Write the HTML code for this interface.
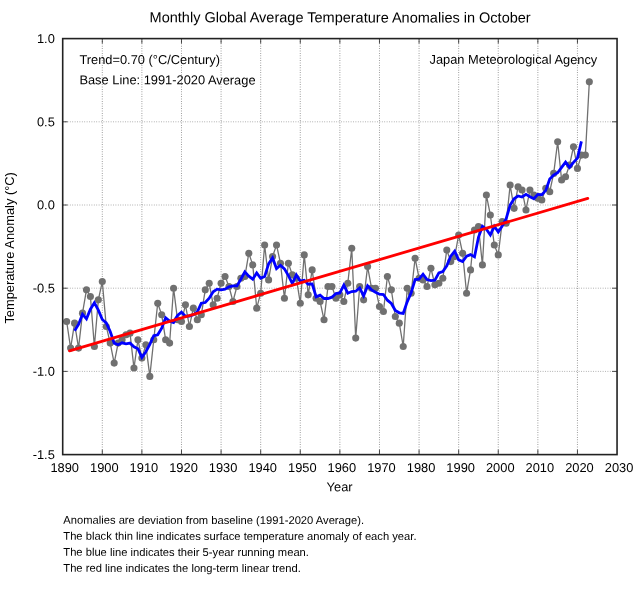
<!DOCTYPE html>
<html><head><meta charset="utf-8"><title>Monthly Global Average Temperature Anomalies in October</title>
<style>
html,body{margin:0;padding:0;background:#fff;}
body{width:640px;height:599px;position:relative;overflow:hidden;font-family:"Liberation Sans",Arial,Helvetica,sans-serif;color:#000;}
.t{position:absolute;left:0;top:0;white-space:nowrap;line-height:20px;}
</style></head><body>
<svg width="640" height="599" viewBox="0 0 640 599" style="position:absolute;left:0;top:0">
<path d="M102.30 38.6V454.6M141.89 38.6V454.6M181.49 38.6V454.6M221.09 38.6V454.6M260.68 38.6V454.6M300.28 38.6V454.6M339.87 38.6V454.6M379.47 38.6V454.6M419.07 38.6V454.6M458.66 38.6V454.6M498.26 38.6V454.6M537.86 38.6V454.6M577.45 38.6V454.6" stroke="#555" stroke-width="0.7" stroke-dasharray="0.8 1.6" fill="none"/>
<path d="M62.7 121.80H617.05M62.7 205.00H617.05M62.7 288.20H617.05M62.7 371.40H617.05" stroke="#777" stroke-width="0.7" stroke-dasharray="0.8 1.6" fill="none"/>
<path d="M102.30 454.6v-4.9M102.30 38.6v4.9M141.89 454.6v-4.9M141.89 38.6v4.9M181.49 454.6v-4.9M181.49 38.6v4.9M221.09 454.6v-4.9M221.09 38.6v4.9M260.68 454.6v-4.9M260.68 38.6v4.9M300.28 454.6v-4.9M300.28 38.6v4.9M339.87 454.6v-4.9M339.87 38.6v4.9M379.47 454.6v-4.9M379.47 38.6v4.9M419.07 454.6v-4.9M419.07 38.6v4.9M458.66 454.6v-4.9M458.66 38.6v4.9M498.26 454.6v-4.9M498.26 38.6v4.9M537.86 454.6v-4.9M537.86 38.6v4.9M577.45 454.6v-4.9M577.45 38.6v4.9M62.7 121.80h4.9M617.05 121.80h-4.9M62.7 205.00h4.9M617.05 205.00h-4.9M62.7 288.20h4.9M617.05 288.20h-4.9M62.7 371.40h4.9M617.05 371.40h-4.9" stroke="#222" stroke-width="0.8" fill="none"/>
<path d="M66.66 321.48L70.62 348.10L74.58 323.14L78.54 348.10L82.50 313.16L86.46 289.86L90.42 296.52L94.38 346.44L98.34 299.85L102.30 281.54L106.26 326.47L110.22 343.11L114.18 363.08L118.13 343.11L122.09 339.78L126.05 334.79L130.01 333.13L133.97 368.07L137.93 339.78L141.89 358.09L145.85 344.78L149.81 376.39L153.77 339.78L157.73 303.18L161.69 314.82L165.65 339.78L169.61 343.11L173.57 288.20L177.53 319.82L181.49 321.48L185.45 304.84L189.41 326.47L193.37 308.17L197.33 319.82L201.29 314.82L205.25 289.86L209.21 283.21L213.17 304.84L217.13 298.18L221.09 283.21L225.05 276.55L229.00 286.54L232.96 301.51L236.92 286.54L240.88 278.22L244.84 276.55L248.80 253.26L252.76 264.90L256.72 308.17L260.68 293.19L264.64 244.94L268.60 279.88L272.56 256.58L276.52 244.94L280.48 263.24L284.44 298.18L288.40 263.24L292.36 274.89L296.32 278.22L300.28 303.18L304.24 254.92L308.20 294.86L312.16 269.90L316.12 298.18L320.08 301.51L324.04 319.82L328.00 286.54L331.96 286.54L335.92 298.18L339.87 294.86L343.83 301.51L347.79 283.21L351.75 248.26L355.71 338.12L359.67 286.54L363.63 299.85L367.59 266.57L371.55 288.20L375.51 288.20L379.47 306.50L383.43 311.50L387.39 276.55L391.35 289.86L395.31 316.49L399.27 323.14L403.23 346.44L407.19 288.20L411.15 293.19L415.11 258.25L419.07 278.22L423.03 279.88L426.99 286.54L430.95 268.23L434.91 284.87L438.87 283.21L442.83 278.22L446.79 249.93L450.74 261.58L454.70 256.58L458.66 234.95L462.62 253.26L466.58 293.19L470.54 269.90L474.50 229.96L478.46 226.63L482.42 264.90L486.38 195.02L490.34 214.98L494.30 244.94L498.26 254.92L502.22 221.64L506.18 223.30L510.14 185.03L514.10 208.33L518.06 186.70L522.02 190.02L525.98 209.99L529.94 190.02L533.90 195.02L537.86 198.34L541.82 200.01L545.78 188.36L549.74 191.69L553.70 173.38L557.66 141.77L561.62 180.04L565.57 176.71L569.53 165.06L573.49 146.76L577.45 168.39L581.41 155.08L585.37 155.08L589.33 81.86" stroke="#707070" stroke-width="1.3" fill="none" stroke-linejoin="round"/>
<circle cx="66.66" cy="321.48" r="3.55" fill="#707070"/>
<circle cx="70.62" cy="348.10" r="3.55" fill="#707070"/>
<circle cx="74.58" cy="323.14" r="3.55" fill="#707070"/>
<circle cx="78.54" cy="348.10" r="3.55" fill="#707070"/>
<circle cx="82.50" cy="313.16" r="3.55" fill="#707070"/>
<circle cx="86.46" cy="289.86" r="3.55" fill="#707070"/>
<circle cx="90.42" cy="296.52" r="3.55" fill="#707070"/>
<circle cx="94.38" cy="346.44" r="3.55" fill="#707070"/>
<circle cx="98.34" cy="299.85" r="3.55" fill="#707070"/>
<circle cx="102.30" cy="281.54" r="3.55" fill="#707070"/>
<circle cx="106.26" cy="326.47" r="3.55" fill="#707070"/>
<circle cx="110.22" cy="343.11" r="3.55" fill="#707070"/>
<circle cx="114.18" cy="363.08" r="3.55" fill="#707070"/>
<circle cx="118.13" cy="343.11" r="3.55" fill="#707070"/>
<circle cx="122.09" cy="339.78" r="3.55" fill="#707070"/>
<circle cx="126.05" cy="334.79" r="3.55" fill="#707070"/>
<circle cx="130.01" cy="333.13" r="3.55" fill="#707070"/>
<circle cx="133.97" cy="368.07" r="3.55" fill="#707070"/>
<circle cx="137.93" cy="339.78" r="3.55" fill="#707070"/>
<circle cx="141.89" cy="358.09" r="3.55" fill="#707070"/>
<circle cx="145.85" cy="344.78" r="3.55" fill="#707070"/>
<circle cx="149.81" cy="376.39" r="3.55" fill="#707070"/>
<circle cx="153.77" cy="339.78" r="3.55" fill="#707070"/>
<circle cx="157.73" cy="303.18" r="3.55" fill="#707070"/>
<circle cx="161.69" cy="314.82" r="3.55" fill="#707070"/>
<circle cx="165.65" cy="339.78" r="3.55" fill="#707070"/>
<circle cx="169.61" cy="343.11" r="3.55" fill="#707070"/>
<circle cx="173.57" cy="288.20" r="3.55" fill="#707070"/>
<circle cx="177.53" cy="319.82" r="3.55" fill="#707070"/>
<circle cx="181.49" cy="321.48" r="3.55" fill="#707070"/>
<circle cx="185.45" cy="304.84" r="3.55" fill="#707070"/>
<circle cx="189.41" cy="326.47" r="3.55" fill="#707070"/>
<circle cx="193.37" cy="308.17" r="3.55" fill="#707070"/>
<circle cx="197.33" cy="319.82" r="3.55" fill="#707070"/>
<circle cx="201.29" cy="314.82" r="3.55" fill="#707070"/>
<circle cx="205.25" cy="289.86" r="3.55" fill="#707070"/>
<circle cx="209.21" cy="283.21" r="3.55" fill="#707070"/>
<circle cx="213.17" cy="304.84" r="3.55" fill="#707070"/>
<circle cx="217.13" cy="298.18" r="3.55" fill="#707070"/>
<circle cx="221.09" cy="283.21" r="3.55" fill="#707070"/>
<circle cx="225.05" cy="276.55" r="3.55" fill="#707070"/>
<circle cx="229.00" cy="286.54" r="3.55" fill="#707070"/>
<circle cx="232.96" cy="301.51" r="3.55" fill="#707070"/>
<circle cx="236.92" cy="286.54" r="3.55" fill="#707070"/>
<circle cx="240.88" cy="278.22" r="3.55" fill="#707070"/>
<circle cx="244.84" cy="276.55" r="3.55" fill="#707070"/>
<circle cx="248.80" cy="253.26" r="3.55" fill="#707070"/>
<circle cx="252.76" cy="264.90" r="3.55" fill="#707070"/>
<circle cx="256.72" cy="308.17" r="3.55" fill="#707070"/>
<circle cx="260.68" cy="293.19" r="3.55" fill="#707070"/>
<circle cx="264.64" cy="244.94" r="3.55" fill="#707070"/>
<circle cx="268.60" cy="279.88" r="3.55" fill="#707070"/>
<circle cx="272.56" cy="256.58" r="3.55" fill="#707070"/>
<circle cx="276.52" cy="244.94" r="3.55" fill="#707070"/>
<circle cx="280.48" cy="263.24" r="3.55" fill="#707070"/>
<circle cx="284.44" cy="298.18" r="3.55" fill="#707070"/>
<circle cx="288.40" cy="263.24" r="3.55" fill="#707070"/>
<circle cx="292.36" cy="274.89" r="3.55" fill="#707070"/>
<circle cx="296.32" cy="278.22" r="3.55" fill="#707070"/>
<circle cx="300.28" cy="303.18" r="3.55" fill="#707070"/>
<circle cx="304.24" cy="254.92" r="3.55" fill="#707070"/>
<circle cx="308.20" cy="294.86" r="3.55" fill="#707070"/>
<circle cx="312.16" cy="269.90" r="3.55" fill="#707070"/>
<circle cx="316.12" cy="298.18" r="3.55" fill="#707070"/>
<circle cx="320.08" cy="301.51" r="3.55" fill="#707070"/>
<circle cx="324.04" cy="319.82" r="3.55" fill="#707070"/>
<circle cx="328.00" cy="286.54" r="3.55" fill="#707070"/>
<circle cx="331.96" cy="286.54" r="3.55" fill="#707070"/>
<circle cx="335.92" cy="298.18" r="3.55" fill="#707070"/>
<circle cx="339.87" cy="294.86" r="3.55" fill="#707070"/>
<circle cx="343.83" cy="301.51" r="3.55" fill="#707070"/>
<circle cx="347.79" cy="283.21" r="3.55" fill="#707070"/>
<circle cx="351.75" cy="248.26" r="3.55" fill="#707070"/>
<circle cx="355.71" cy="338.12" r="3.55" fill="#707070"/>
<circle cx="359.67" cy="286.54" r="3.55" fill="#707070"/>
<circle cx="363.63" cy="299.85" r="3.55" fill="#707070"/>
<circle cx="367.59" cy="266.57" r="3.55" fill="#707070"/>
<circle cx="371.55" cy="288.20" r="3.55" fill="#707070"/>
<circle cx="375.51" cy="288.20" r="3.55" fill="#707070"/>
<circle cx="379.47" cy="306.50" r="3.55" fill="#707070"/>
<circle cx="383.43" cy="311.50" r="3.55" fill="#707070"/>
<circle cx="387.39" cy="276.55" r="3.55" fill="#707070"/>
<circle cx="391.35" cy="289.86" r="3.55" fill="#707070"/>
<circle cx="395.31" cy="316.49" r="3.55" fill="#707070"/>
<circle cx="399.27" cy="323.14" r="3.55" fill="#707070"/>
<circle cx="403.23" cy="346.44" r="3.55" fill="#707070"/>
<circle cx="407.19" cy="288.20" r="3.55" fill="#707070"/>
<circle cx="411.15" cy="293.19" r="3.55" fill="#707070"/>
<circle cx="415.11" cy="258.25" r="3.55" fill="#707070"/>
<circle cx="419.07" cy="278.22" r="3.55" fill="#707070"/>
<circle cx="423.03" cy="279.88" r="3.55" fill="#707070"/>
<circle cx="426.99" cy="286.54" r="3.55" fill="#707070"/>
<circle cx="430.95" cy="268.23" r="3.55" fill="#707070"/>
<circle cx="434.91" cy="284.87" r="3.55" fill="#707070"/>
<circle cx="438.87" cy="283.21" r="3.55" fill="#707070"/>
<circle cx="442.83" cy="278.22" r="3.55" fill="#707070"/>
<circle cx="446.79" cy="249.93" r="3.55" fill="#707070"/>
<circle cx="450.74" cy="261.58" r="3.55" fill="#707070"/>
<circle cx="454.70" cy="256.58" r="3.55" fill="#707070"/>
<circle cx="458.66" cy="234.95" r="3.55" fill="#707070"/>
<circle cx="462.62" cy="253.26" r="3.55" fill="#707070"/>
<circle cx="466.58" cy="293.19" r="3.55" fill="#707070"/>
<circle cx="470.54" cy="269.90" r="3.55" fill="#707070"/>
<circle cx="474.50" cy="229.96" r="3.55" fill="#707070"/>
<circle cx="478.46" cy="226.63" r="3.55" fill="#707070"/>
<circle cx="482.42" cy="264.90" r="3.55" fill="#707070"/>
<circle cx="486.38" cy="195.02" r="3.55" fill="#707070"/>
<circle cx="490.34" cy="214.98" r="3.55" fill="#707070"/>
<circle cx="494.30" cy="244.94" r="3.55" fill="#707070"/>
<circle cx="498.26" cy="254.92" r="3.55" fill="#707070"/>
<circle cx="502.22" cy="221.64" r="3.55" fill="#707070"/>
<circle cx="506.18" cy="223.30" r="3.55" fill="#707070"/>
<circle cx="510.14" cy="185.03" r="3.55" fill="#707070"/>
<circle cx="514.10" cy="208.33" r="3.55" fill="#707070"/>
<circle cx="518.06" cy="186.70" r="3.55" fill="#707070"/>
<circle cx="522.02" cy="190.02" r="3.55" fill="#707070"/>
<circle cx="525.98" cy="209.99" r="3.55" fill="#707070"/>
<circle cx="529.94" cy="190.02" r="3.55" fill="#707070"/>
<circle cx="533.90" cy="195.02" r="3.55" fill="#707070"/>
<circle cx="537.86" cy="198.34" r="3.55" fill="#707070"/>
<circle cx="541.82" cy="200.01" r="3.55" fill="#707070"/>
<circle cx="545.78" cy="188.36" r="3.55" fill="#707070"/>
<circle cx="549.74" cy="191.69" r="3.55" fill="#707070"/>
<circle cx="553.70" cy="173.38" r="3.55" fill="#707070"/>
<circle cx="557.66" cy="141.77" r="3.55" fill="#707070"/>
<circle cx="561.62" cy="180.04" r="3.55" fill="#707070"/>
<circle cx="565.57" cy="176.71" r="3.55" fill="#707070"/>
<circle cx="569.53" cy="165.06" r="3.55" fill="#707070"/>
<circle cx="573.49" cy="146.76" r="3.55" fill="#707070"/>
<circle cx="577.45" cy="168.39" r="3.55" fill="#707070"/>
<circle cx="581.41" cy="155.08" r="3.55" fill="#707070"/>
<circle cx="585.37" cy="155.08" r="3.55" fill="#707070"/>
<circle cx="589.33" cy="81.86" r="3.55" fill="#707070"/>
<path d="M74.58 330.80L78.54 324.48L82.50 314.16L86.46 318.82L90.42 309.17L94.38 302.84L98.34 310.16L102.30 319.48L106.26 322.81L110.22 331.46L114.18 343.11L118.13 344.78L122.09 342.78L126.05 343.78L130.01 343.11L133.97 346.77L137.93 348.77L141.89 357.42L145.85 351.76L149.81 344.44L153.77 335.79L157.73 334.79L161.69 328.14L165.65 317.82L169.61 321.15L173.57 322.48L177.53 315.49L181.49 312.16L185.45 316.16L189.41 316.16L193.37 314.82L197.33 311.83L201.29 303.18L205.25 302.51L209.21 298.18L213.17 291.86L217.13 289.20L221.09 289.86L225.05 289.20L229.00 286.87L232.96 285.87L236.92 285.87L240.88 279.21L244.84 271.89L248.80 276.22L252.76 279.21L256.72 272.89L260.68 278.22L264.64 276.55L268.60 263.91L272.56 257.92L276.52 268.56L280.48 265.24L284.44 268.90L288.40 275.55L292.36 283.54L296.32 274.89L300.28 281.21L304.24 280.21L308.20 284.21L312.16 283.87L316.12 296.85L320.08 295.19L324.04 298.52L328.00 298.52L331.96 297.19L335.92 293.52L339.87 292.86L343.83 285.20L347.79 293.19L351.75 291.53L355.71 291.20L359.67 287.87L363.63 295.85L367.59 285.87L371.55 289.86L375.51 292.19L379.47 294.19L383.43 294.52L387.39 300.18L391.35 303.51L395.31 310.50L399.27 312.83L403.23 313.49L407.19 301.84L411.15 292.86L415.11 279.55L419.07 279.21L423.03 274.22L426.99 279.55L430.95 280.55L434.91 280.21L438.87 272.89L442.83 271.56L446.79 265.90L450.74 256.25L454.70 251.26L458.66 259.91L462.62 261.58L466.58 256.25L470.54 254.59L474.50 256.92L478.46 237.28L482.42 226.30L486.38 229.29L490.34 234.95L494.30 226.30L498.26 231.96L502.22 225.97L506.18 218.64L510.14 205.00L514.10 198.68L518.06 196.01L522.02 197.01L525.98 194.35L529.94 196.68L533.90 198.68L537.86 194.35L541.82 194.68L545.78 190.36L549.74 179.04L553.70 175.05L557.66 172.72L561.62 167.39L565.57 162.07L569.53 167.39L573.49 162.40L577.45 158.08L581.41 141.44" stroke="#0000ff" stroke-width="2.8" fill="none" stroke-linejoin="miter"/>
<path d="M69.5 350.80L587.8 198.37" stroke="#ff0000" stroke-width="2.8" stroke-linecap="round" fill="none"/>
<rect x="62.7" y="38.6" width="554.3499999999999" height="416.0" fill="none" stroke="#222" stroke-width="1.6"/>
</svg>
<div class="t" id="title" style="font-size:14.53px;transform:translate(149.60px,7.37px) rotate(0.03deg);">Monthly Global Average Temperature Anomalies in October</div>
<div class="t" id="trend" style="font-size:12.85px;transform:translate(79.40px,49.95px) rotate(0.03deg);">Trend=0.70 (°C/Century)</div>
<div class="t" id="base" style="font-size:12.85px;transform:translate(79.40px,70.35px) rotate(0.03deg);">Base Line: 1991-2020 Average</div>
<div class="t" id="jma" style="font-size:12.85px;transform:translate(429.50px,49.85px) rotate(0.03deg);">Japan Meteorological Agency</div>
<div class="t" id="xlab" style="font-size:12.85px;transform:translate(326.60px,477.25px) rotate(0.03deg);">Year</div>
<div class="t" id="n1" style="font-size:11.2px;transform:translate(63.30px,509.92px) rotate(0.03deg);">Anomalies are deviation from baseline (1991-2020 Average).</div>
<div class="t" id="n2" style="font-size:11.2px;transform:translate(63.30px,525.92px) rotate(0.03deg);">The black thin line indicates surface temperature anomaly of each year.</div>
<div class="t" id="n3" style="font-size:11.2px;transform:translate(63.30px,541.92px) rotate(0.03deg);">The blue line indicates their 5-year running mean.</div>
<div class="t" id="n4" style="font-size:11.2px;transform:translate(63.30px,557.92px) rotate(0.03deg);">The red line indicates the long-term linear trend.</div>
<div class="t" id="ylab" style="left:0;top:0;font-size:12.85px;transform-origin:0 0;transform:translate(0.35px,323.6px) rotate(-90deg);">Temperature Anomaly (°C)</div>
<div class="t" id="x1890" style="font-size:12.85px;transform:translate(64.70px,457.95px) translate(-50%,0) rotate(0.03deg);">1890</div>
<div class="t" id="x1900" style="font-size:12.85px;transform:translate(104.30px,457.95px) translate(-50%,0) rotate(0.03deg);">1900</div>
<div class="t" id="x1910" style="font-size:12.85px;transform:translate(143.89px,457.95px) translate(-50%,0) rotate(0.03deg);">1910</div>
<div class="t" id="x1920" style="font-size:12.85px;transform:translate(183.49px,457.95px) translate(-50%,0) rotate(0.03deg);">1920</div>
<div class="t" id="x1930" style="font-size:12.85px;transform:translate(223.09px,457.95px) translate(-50%,0) rotate(0.03deg);">1930</div>
<div class="t" id="x1940" style="font-size:12.85px;transform:translate(262.68px,457.95px) translate(-50%,0) rotate(0.03deg);">1940</div>
<div class="t" id="x1950" style="font-size:12.85px;transform:translate(302.28px,457.95px) translate(-50%,0) rotate(0.03deg);">1950</div>
<div class="t" id="x1960" style="font-size:12.85px;transform:translate(341.87px,457.95px) translate(-50%,0) rotate(0.03deg);">1960</div>
<div class="t" id="x1970" style="font-size:12.85px;transform:translate(381.47px,457.95px) translate(-50%,0) rotate(0.03deg);">1970</div>
<div class="t" id="x1980" style="font-size:12.85px;transform:translate(421.07px,457.95px) translate(-50%,0) rotate(0.03deg);">1980</div>
<div class="t" id="x1990" style="font-size:12.85px;transform:translate(460.66px,457.95px) translate(-50%,0) rotate(0.03deg);">1990</div>
<div class="t" id="x2000" style="font-size:12.85px;transform:translate(500.26px,457.95px) translate(-50%,0) rotate(0.03deg);">2000</div>
<div class="t" id="x2010" style="font-size:12.85px;transform:translate(539.86px,457.95px) translate(-50%,0) rotate(0.03deg);">2010</div>
<div class="t" id="x2020" style="font-size:12.85px;transform:translate(579.45px,457.95px) translate(-50%,0) rotate(0.03deg);">2020</div>
<div class="t" id="x2030" style="font-size:12.85px;transform:translate(619.05px,457.95px) translate(-50%,0) rotate(0.03deg);">2030</div>
<div class="t" id="y0" style="font-size:12.85px;transform:translate(54.80px,28.95px) translate(-100%,0) rotate(0.03deg);">1.0</div>
<div class="t" id="y1" style="font-size:12.85px;transform:translate(54.80px,112.15px) translate(-100%,0) rotate(0.03deg);">0.5</div>
<div class="t" id="y2" style="font-size:12.85px;transform:translate(54.80px,195.35px) translate(-100%,0) rotate(0.03deg);">0.0</div>
<div class="t" id="y3" style="font-size:12.85px;transform:translate(54.80px,278.55px) translate(-100%,0) rotate(0.03deg);">-0.5</div>
<div class="t" id="y4" style="font-size:12.85px;transform:translate(54.80px,361.75px) translate(-100%,0) rotate(0.03deg);">-1.0</div>
<div class="t" id="y5" style="font-size:12.85px;transform:translate(54.80px,444.95px) translate(-100%,0) rotate(0.03deg);">-1.5</div>
</body></html>
